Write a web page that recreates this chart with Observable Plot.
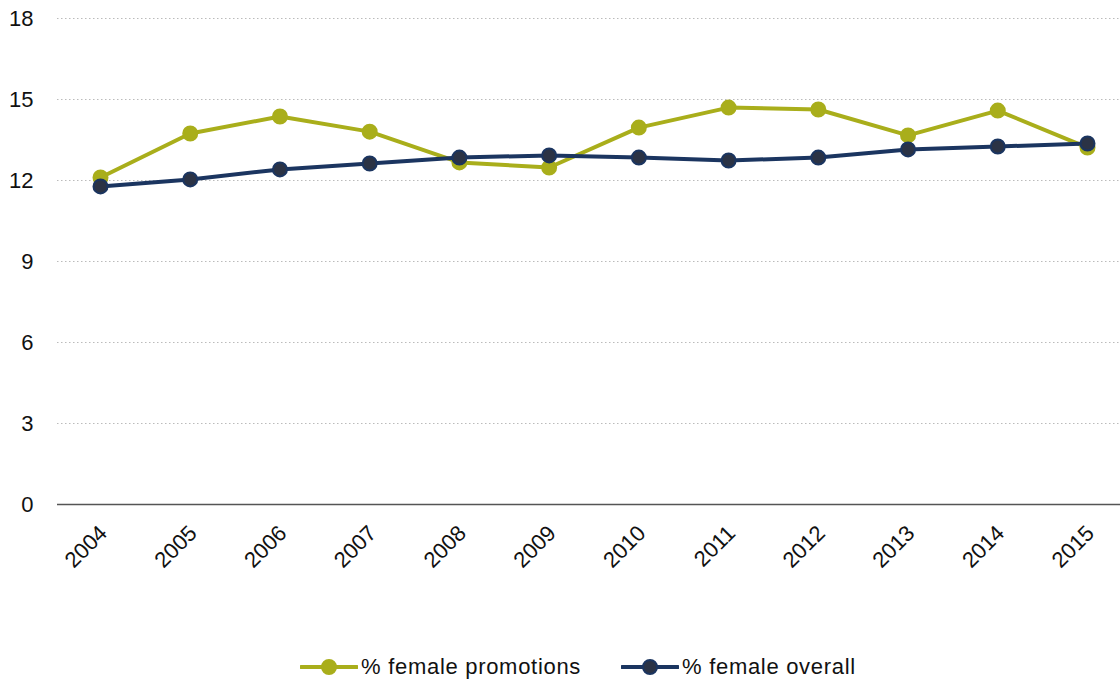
<!DOCTYPE html>
<html>
<head>
<meta charset="utf-8">
<script src="https://cdn.jsdelivr.net/npm/d3@7"></script>
<script src="https://cdn.jsdelivr.net/npm/@observablehq/plot@0.6"></script>
<style>
  html, body { margin: 0; padding: 0; background: #fff; }
  body { width: 1120px; height: 681px; font-family: "Liberation Sans", Arial, sans-serif; }
  #legend { display: flex; justify-content: center; align-items: center; gap: 40px; margin-top: 39px; padding-left: 36px; font-size: 22px; letter-spacing: 0.7px; color: #111; }
  .item { display: flex; align-items: center; gap: 3px; }
</style>
</head>
<body>
<div id="chart"></div>
<div id="legend"></div>
<script>
const years = ["2004","2005","2006","2007","2008","2009","2010","2011","2012","2013","2014","2015"];
const promotions = [12.11, 13.74, 14.37, 13.81, 12.67, 12.48, 13.96, 14.70, 14.63, 13.67, 14.59, 13.22];
const overall = [11.78, 12.04, 12.41, 12.63, 12.85, 12.93, 12.85, 12.74, 12.85, 13.15, 13.26, 13.37];
const seriesNames = ["% female promotions", "% female overall"];
const yTicks = [0, 3, 6, 9, 12, 15, 18];

const colors = {
  "% female promotions": {stroke: "#A9AE1B", fill: "#A9AE1B"},
  "% female overall": {stroke: "#1B3560", fill: "#2B3345"}
};

const data = [];
years.forEach((y, i) => {
  data.push({year: y, value: promotions[i], series: seriesNames[0]});
  data.push({year: y, value: overall[i], series: seriesNames[1]});
});

const chart = Plot.plot({
  width: 1120,
  height: 615,
  marginLeft: 57,
  marginRight: 0,
  marginTop: 18,
  marginBottom: 111,
  style: {fontFamily: "Liberation Sans, Arial, sans-serif", fontSize: "22px", color: "#111", background: "#fff"},
  x: {type: "point", domain: years, range: [100, 1087], padding: 0, round: false, label: null},
  y: {domain: [0, 18], label: null},
  marks: [
    Plot.gridY(yTicks.filter(d => d > 0), {stroke: "#bbb", strokeOpacity: 1, strokeDasharray: "1.5,2.5", strokeWidth: 1}),
    Plot.ruleY([0], {stroke: "#555", strokeWidth: 1.5}),
    Plot.axisY({ticks: yTicks, tickSize: 0, tickPadding: 24, label: null, fontSize: 22, style: {letterSpacing: "1px"}}),
    Plot.axisX({tickSize: 0, tickRotate: -45, tickPadding: 25, dx: 3, label: null, fontSize: 22, style: {letterSpacing: "1px"}}),
    ...seriesNames.map(s => Plot.line(data.filter(d => d.series === s), {x: "year", y: "value", stroke: colors[s].stroke, strokeWidth: 4})),
    ...seriesNames.map(s => Plot.dot(data.filter(d => d.series === s), {x: "year", y: "value", r: 7, fill: colors[s].fill, stroke: colors[s].stroke, strokeWidth: 2}))
  ]
});
document.getElementById("chart").appendChild(chart);

const legend = document.getElementById("legend");
seriesNames.forEach(s => {
  const item = document.createElement("div");
  item.className = "item";
  item.innerHTML = `<svg width="58" height="20"><line x1="1" y1="10" x2="57" y2="10" stroke="${colors[s].stroke}" stroke-width="4" stroke-linecap="round"/><circle cx="29" cy="10" r="7" fill="${colors[s].fill}" stroke="${colors[s].stroke}" stroke-width="2"/></svg><span>${s}</span>`;
  legend.appendChild(item);
});
</script>
</body>
</html>
